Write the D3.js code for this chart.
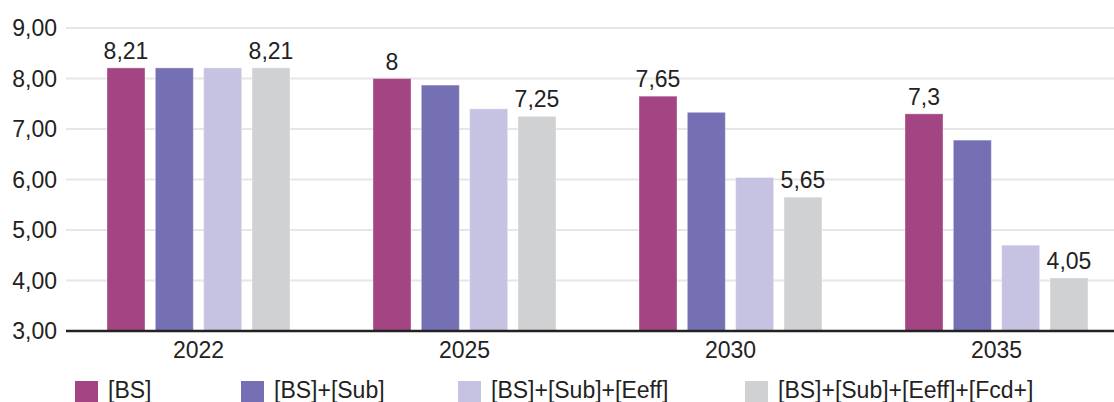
<!DOCTYPE html>
<html>
<head>
<meta charset="utf-8">
<script src="https://cdn.jsdelivr.net/npm/d3@7"></script>
<style>
  html, body { margin: 0; padding: 0; background: #fff; }
  svg { display: block; font-family: "Liberation Sans", Arial, Helvetica, sans-serif; }
</style>
</head>
<body>
<svg id="chart" width="1114" height="402"></svg>
<script>
// Years on the category axis
const years = ["2022", "2025", "2030", "2035"];

// Scenario names (legend order)
const seriesNames = ["[BS]", "[BS]+[Sub]", "[BS]+[Sub]+[Eeff]", "[BS]+[Sub]+[Eeff]+[Fcd+]"];

// Values per scenario, one entry per year
const bs          = [8.21, 8.00, 7.65, 7.30];
const bsSub       = [8.21, 7.87, 7.33, 6.78];
const bsSubEeff   = [8.21, 7.40, 6.04, 4.70];
const bsSubEeffFc = [8.21, 7.25, 5.65, 4.05];

// Y axis ticks
const yTicks = [3, 4, 5, 6, 7, 8, 9];

// Which scenarios carry a value label
const labelled = [true, false, false, true];

const colors = ["#a34582", "#7570b3", "#c6c3e2", "#d0d1d3"];
const seriesValues = [bs, bsSub, bsSubEeff, bsSubEeffFc];

const svg = d3.select("#chart");
const W = 1114;
const FS = 23;

const y = d3.scaleLinear().domain([3, 9]).range([331, 28]);
const x0 = d3.scaleBand().domain(years).range([65.5, 1129.5]).paddingInner(0).paddingOuter(0);
const x1 = d3.scaleBand().domain(seriesNames).range([41.5, 224.5]).paddingInner(0.214).paddingOuter(0);

const fmt = v => (Math.round(v * 100) / 100).toString().replace(".", ",");

// Gridlines
svg.append("g")
  .selectAll("line")
  .data(yTicks.filter(t => t > 3))
  .join("line")
  .attr("x1", 66).attr("x2", W)
  .attr("y1", d => y(d)).attr("y2", d => y(d))
  .attr("stroke", "#e6e6e6").attr("stroke-width", 2);

// Y tick labels
svg.append("g")
  .selectAll("text")
  .data(yTicks)
  .join("text")
  .attr("x", 57).attr("y", d => y(d) + 8)
  .attr("text-anchor", "end")
  .attr("font-size", FS).attr("fill", "#222")
  .text(d => d.toFixed(2).replace(".", ","));

// Bars
const groups = svg.append("g")
  .selectAll("g")
  .data(years)
  .join("g")
  .attr("transform", d => `translate(${x0(d)},0)`);

groups.selectAll("rect")
  .data((yr, i) => seriesNames.map((s, k) => ({ s, k, v: seriesValues[k][i] })))
  .join("rect")
  .attr("x", d => x1(d.s))
  .attr("width", x1.bandwidth())
  .attr("y", d => y(d.v))
  .attr("height", d => y(3) - y(d.v))
  .attr("fill", d => colors[d.k])
  .attr("stroke", "rgba(255,255,255,0.35)")
  .attr("stroke-width", 1);

// Value labels
groups.selectAll("text")
  .data((yr, i) => seriesNames.map((s, k) => ({ s, k, v: seriesValues[k][i] })).filter(d => labelled[d.k]))
  .join("text")
  .attr("x", d => x1(d.s) + x1.bandwidth() / 2)
  .attr("y", d => y(d.v) - 9)
  .attr("text-anchor", "middle")
  .attr("font-size", FS).attr("fill", "#222")
  .text(d => fmt(d.v));

// Baseline
svg.append("line")
  .attr("x1", 66).attr("x2", W)
  .attr("y1", y(3)).attr("y2", y(3))
  .attr("stroke", "#222").attr("stroke-width", 2.5);

// Category labels
svg.append("g")
  .selectAll("text")
  .data(years)
  .join("text")
  .attr("x", d => x0(d) + x0.bandwidth() / 2)
  .attr("y", 358)
  .attr("text-anchor", "middle")
  .attr("font-size", FS).attr("fill", "#222")
  .text(d => d);

// Legend
const legendX = [75, 241, 458, 745];
const legend = svg.append("g")
  .selectAll("g")
  .data(seriesNames)
  .join("g")
  .attr("transform", (d, i) => `translate(${legendX[i]},381)`);

legend.append("rect")
  .attr("width", 23).attr("height", 21)
  .attr("fill", (d, i) => colors[i]);

legend.append("text")
  .attr("x", 33).attr("y", 17)
  .attr("font-size", FS).attr("fill", "#222")
  .text(d => d);
</script>
</body>
</html>
